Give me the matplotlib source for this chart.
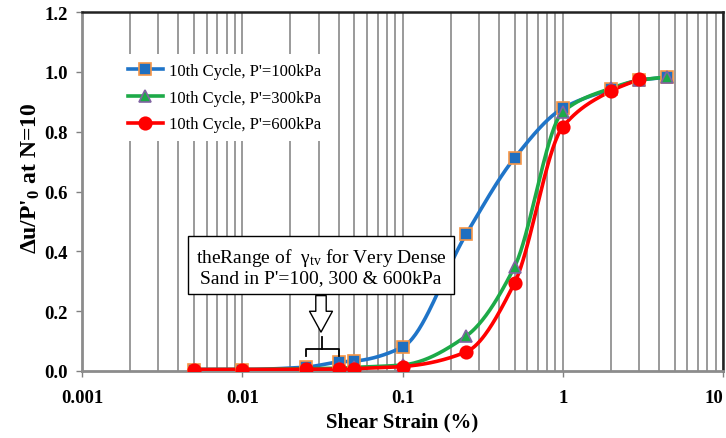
import numpy as np
import matplotlib.pyplot as plt
from matplotlib.ticker import FixedLocator, LogLocator, NullFormatter

# shear strain (%) and pore pressure ratio at N=10
strain = [0.005, 0.01, 0.025, 0.04, 0.05, 0.1, 0.25, 0.5, 1, 2, 3, 4.5]
ratio_100 = [0.005, 0.005, 0.013, 0.03, 0.033, 0.08, 0.458, 0.712, 0.878, 0.942, 0.972, 0.982]
ratio_300 = [0.005, 0.005, 0.008, 0.009, 0.012, 0.02, 0.117, 0.348, 0.866, 0.945, 0.972, 0.983]
strain_600 = [0.005, 0.01, 0.025, 0.04, 0.05, 0.1, 0.25, 0.5, 1, 2, 3]
ratio_600 = [0.005, 0.005, 0.006, 0.006, 0.008, 0.015, 0.064, 0.294, 0.816, 0.936, 0.975]

labels = ["10th Cycle, P'=100kPa", "10th Cycle, P'=300kPa", "10th Cycle, P'=600kPa"]
x_ticks = [0.001, 0.01, 0.1, 1, 10]
x_ticklabels = ['0.001', '0.01', '0.1', '1', '10']
y_ticks = [0.0, 0.2, 0.4, 0.6, 0.8, 1.0, 1.2]
range_lo, range_hi = 0.025, 0.04

plt.rcParams['font.family'] = 'Liberation Serif'
plt.rcParams['mathtext.fontset'] = 'custom'
plt.rcParams['mathtext.rm'] = 'Liberation Serif'
plt.rcParams['mathtext.bf'] = 'Liberation Serif:bold'
plt.rcParams['mathtext.it'] = 'Liberation Serif:italic'


def smooth(x, y, n=40):
    # smoothed line through the points: monotone cubic in log-x
    u = np.log10(np.asarray(x, float))
    v = np.asarray(y, float)
    h = np.diff(u)
    d = np.diff(v) / h
    m = np.zeros_like(v)
    for k in range(1, len(v) - 1):
        if d[k - 1] * d[k] > 0:
            w1 = 2 * h[k] + h[k - 1]
            w2 = h[k] + 2 * h[k - 1]
            m[k] = (w1 + w2) / (w1 / d[k - 1] + w2 / d[k])
    m[0] = d[0]
    m[-1] = d[-1]
    uu, vv = [], []
    for k in range(len(v) - 1):
        t = np.linspace(0, 1, n)
        h00 = 2 * t**3 - 3 * t**2 + 1
        h10 = t**3 - 2 * t**2 + t
        h01 = -2 * t**3 + 3 * t**2
        h11 = t**3 - t**2
        seg = h00 * v[k] + h10 * h[k] * m[k] + h01 * v[k + 1] + h11 * h[k] * m[k + 1]
        uu.append(u[k] + t * h[k])
        vv.append(seg)
    return 10 ** np.concatenate(uu), np.concatenate(vv)


fig = plt.figure(figsize=(7.26, 4.39), dpi=100)
ax = fig.add_axes([82 / 726, 67 / 439, 641 / 726, 359 / 439])

series = [
    (strain, ratio_100, '#1F74C8', 's', '#1F6FC0', '#F79646', 8.5),
    (strain, ratio_300, '#1DAA48', '^', '#1DAA48', '#8064A2', 9),
    (strain_600, ratio_600, '#FF0000', 'o', '#FF0000', '#FF0000', 9),
]
for (xs, ys, col, mk, fc, ec, ms), lab in zip(series, labels):
    sx, sy = smooth(xs, ys)
    ax.plot(sx, sy, color=col, lw=2.6, solid_capstyle='round', zorder=3)
    ax.plot(xs, ys, ls='none', marker=mk, ms=ms, mfc=fc, mec=ec, mew=1.2, zorder=4)
    ax.plot([], [], color=col, lw=2.6, marker=mk, ms=ms, mfc=fc, mec=ec, mew=1.2, label=lab)

ax.set_xscale('log')
ax.set_xlim(0.001, 10)
ax.set_ylim(0, 1.2)
ax.xaxis.set_major_locator(FixedLocator(x_ticks))
ax.set_xticklabels(x_ticklabels)
ax.xaxis.set_minor_locator(LogLocator(base=10, subs=np.arange(2, 10), numticks=20))
ax.xaxis.set_minor_formatter(NullFormatter())
ax.set_yticks(y_ticks)
ax.set_yticklabels([f'{v:.1f}' for v in y_ticks])

ax.grid(True, axis='x', which='both', color='#7f7f7f', lw=1.1)
ax.set_axisbelow(True)
ax.tick_params(axis='x', which='major', length=4, width=1, color='#808080', pad=9,
               labelsize=13.5)
ax.tick_params(axis='x', which='minor', length=0)
ax.tick_params(axis='y', length=4, width=1, color='#808080', pad=6, labelsize=13.5)
for lab in ax.get_xticklabels() + ax.get_yticklabels():
    lab.set_fontweight('bold')
ax.get_xticklabels()[-1].set_horizontalalignment('right')

for side in ['left', 'bottom']:
    ax.spines[side].set_color('#8c8c8c')
    ax.spines[side].set_linewidth(2)
for side in ['top', 'right']:
    ax.spines[side].set_color('#222222')
    ax.spines[side].set_linewidth(1.8)

ax.set_xlabel('Shear Strain (%)', fontsize=15, fontweight='bold', labelpad=4)
ax.set_ylabel(r"Δu/P'$_\mathbf{0}$ at N=10", fontsize=17, fontweight='bold')
ax.yaxis.set_label_coords(-0.062, 0.54)

leg = ax.legend(loc='upper left', bbox_to_anchor=(0.045, 0.905), fontsize=12,
                frameon=True, facecolor='white', edgecolor='none', fancybox=False,
                framealpha=1, handlelength=2.1, labelspacing=0.65, borderpad=0.5,
                handletextpad=0.4)

# annotation box with hollow arrow and bracket
ax.text(0.031, 0.352, "theRange of  $\\mathrm{\\gamma}_\\mathrm{tv}$ for Very Dense\nSand in P'=100, 300 & 600kPa",
        ha='center', va='center', fontsize=14, linespacing=1.1, zorder=6,
        bbox=dict(boxstyle='square,pad=0.4', fc='white', ec='black', lw=1))
ax.annotate('', xy=(0.031, 0.13), xytext=(0.031, 0.252),
            arrowprops=dict(arrowstyle='simple,head_length=1.0,head_width=1.1,tail_width=0.5',
                            fc='white', ec='black', lw=1, shrinkA=0, shrinkB=0,
                            mutation_scale=15), zorder=6)
mid = np.sqrt(range_lo * range_hi)
ax.plot([range_lo, range_lo, range_hi, range_hi], [0.05, 0.072, 0.072, 0.05],
        color='black', lw=1.3, zorder=5)
ax.plot([mid, mid], [0.072, 0.115], color='black', lw=1.3, zorder=5)

fig.savefig('out.png', dpi=100)
